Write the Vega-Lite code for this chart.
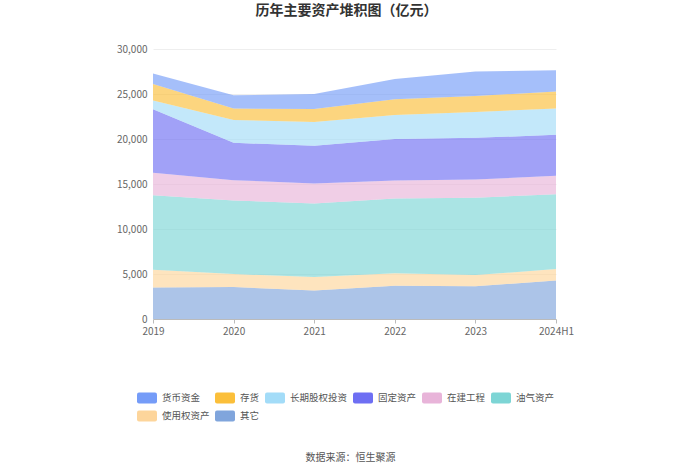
{
  "$schema": "https://vega.github.io/schema/vega-lite/v6.json",
  "width": 403,
  "height": 270,
  "autosize": "none",
  "padding": {"left": 153, "top": 49, "right": 144, "bottom": 155},
  "background": "white",
  "config": {"view": {"stroke": null}, "font": "Noto Sans CJK SC"},
  "title": {"text": "历年主要资产堆积图（亿元）", "fontSize": 14, "fontWeight": "bold", "color": "#333333", "anchor": "middle", "dx": -8, "offset": 26, "font": "Noto Sans CJK SC"},
  "data": {"values": [
    {"year": "2019", "cat": "其它", "v": 3510},
    {"year": "2020", "cat": "其它", "v": 3550},
    {"year": "2021", "cat": "其它", "v": 3180},
    {"year": "2022", "cat": "其它", "v": 3700},
    {"year": "2023", "cat": "其它", "v": 3630},
    {"year": "2024H1", "cat": "其它", "v": 4290},
    {"year": "2019", "cat": "使用权资产", "v": 1970},
    {"year": "2020", "cat": "使用权资产", "v": 1440},
    {"year": "2021", "cat": "使用权资产", "v": 1480},
    {"year": "2022", "cat": "使用权资产", "v": 1370},
    {"year": "2023", "cat": "使用权资产", "v": 1250},
    {"year": "2024H1", "cat": "使用权资产", "v": 1260},
    {"year": "2019", "cat": "油气资产", "v": 8280},
    {"year": "2020", "cat": "油气资产", "v": 8180},
    {"year": "2021", "cat": "油气资产", "v": 8180},
    {"year": "2022", "cat": "油气资产", "v": 8320},
    {"year": "2023", "cat": "油气资产", "v": 8590},
    {"year": "2024H1", "cat": "油气资产", "v": 8320},
    {"year": "2019", "cat": "在建工程", "v": 2480},
    {"year": "2020", "cat": "在建工程", "v": 2260},
    {"year": "2021", "cat": "在建工程", "v": 2220},
    {"year": "2022", "cat": "在建工程", "v": 2000},
    {"year": "2023", "cat": "在建工程", "v": 2030},
    {"year": "2024H1", "cat": "在建工程", "v": 2040},
    {"year": "2019", "cat": "固定资产", "v": 7070},
    {"year": "2020", "cat": "固定资产", "v": 4140},
    {"year": "2021", "cat": "固定资产", "v": 4180},
    {"year": "2022", "cat": "固定资产", "v": 4620},
    {"year": "2023", "cat": "固定资产", "v": 4630},
    {"year": "2024H1", "cat": "固定资产", "v": 4550},
    {"year": "2019", "cat": "长期股权投资", "v": 960},
    {"year": "2020", "cat": "长期股权投资", "v": 2550},
    {"year": "2021", "cat": "长期股权投资", "v": 2660},
    {"year": "2022", "cat": "长期股权投资", "v": 2670},
    {"year": "2023", "cat": "长期股权投资", "v": 2880},
    {"year": "2024H1", "cat": "长期股权投资", "v": 2920},
    {"year": "2019", "cat": "存货", "v": 1850},
    {"year": "2020", "cat": "存货", "v": 1260},
    {"year": "2021", "cat": "存货", "v": 1440},
    {"year": "2022", "cat": "存货", "v": 1740},
    {"year": "2023", "cat": "存货", "v": 1780},
    {"year": "2024H1", "cat": "存货", "v": 1890},
    {"year": "2019", "cat": "货币资金", "v": 1150},
    {"year": "2020", "cat": "货币资金", "v": 1480},
    {"year": "2021", "cat": "货币资金", "v": 1670},
    {"year": "2022", "cat": "货币资金", "v": 2250},
    {"year": "2023", "cat": "货币资金", "v": 2700},
    {"year": "2024H1", "cat": "货币资金", "v": 2370}
  ]},
  "transform": [
    {"calculate": "indexof(['其它','使用权资产','油气资产','在建工程','固定资产','长期股权投资','存货','货币资金'], datum.cat)", "as": "stackOrder"}
  ],
  "mark": {"type": "area", "opacity": 0.65, "interpolate": "linear"},
  "encoding": {
    "x": {"field": "year", "type": "ordinal", "scale": {"type": "point", "padding": 0},
      "axis": {"labelAngle": 0, "labelColor": "#666666", "labelFontSize": 10, "domainColor": "#bbbbbb", "tickColor": "#bbbbbb", "tickSize": 4, "grid": false, "labelPadding": 3,
        "title": "数据来源：恒生聚源", "titleFontSize": 10, "titleFontWeight": "normal", "titleColor": "#555555", "titlePadding": 116, "titleX": 197}},
    "y": {"field": "v", "type": "quantitative", "stack": "zero", "scale": {"domain": [0, 30000]},
      "axis": {"title": null, "values": [0, 5000, 10000, 15000, 20000, 25000, 30000], "format": ",.0f", "labelColor": "#666666", "labelFontSize": 10, "domain": false, "ticks": false, "gridColor": "#eeeeee", "labelPadding": 6}},
    "order": {"field": "stackOrder", "type": "quantitative", "sort": "ascending"},
    "color": {"field": "cat", "type": "nominal",
      "sort": ["货币资金", "存货", "长期股权投资", "固定资产", "在建工程", "油气资产", "使用权资产", "其它"],
      "scale": {"domain": ["货币资金", "存货", "长期股权投资", "固定资产", "在建工程", "油气资产", "使用权资产", "其它"],
        "range": ["#759cf8", "#fbbf3a", "#a3dcf8", "#6e6ff3", "#e8b4d9", "#7dd5d5", "#fdd59b", "#80a5dc"]},
      "legend": {"title": null, "orient": "none", "legendX": -16, "legendY": 339, "direction": "horizontal", "columns": 6, "gridAlign": "none",
        "columnPadding": 5, "rowPadding": 2, "labelFontSize": 9.5, "labelColor": "#555555", "labelOffset": 5, "symbolOpacity": 1, "symbolStrokeWidth": 0,
        "symbolType": "M-0.8,-0.55 L0.8,-0.55 Q1,-0.55 1,-0.35 L1,0.35 Q1,0.55 0.8,0.55 L-0.8,0.55 Q-1,0.55 -1,0.35 L-1,-0.35 Q-1,-0.55 -0.8,-0.55 Z",
        "symbolSize": 400}}
  }
}
